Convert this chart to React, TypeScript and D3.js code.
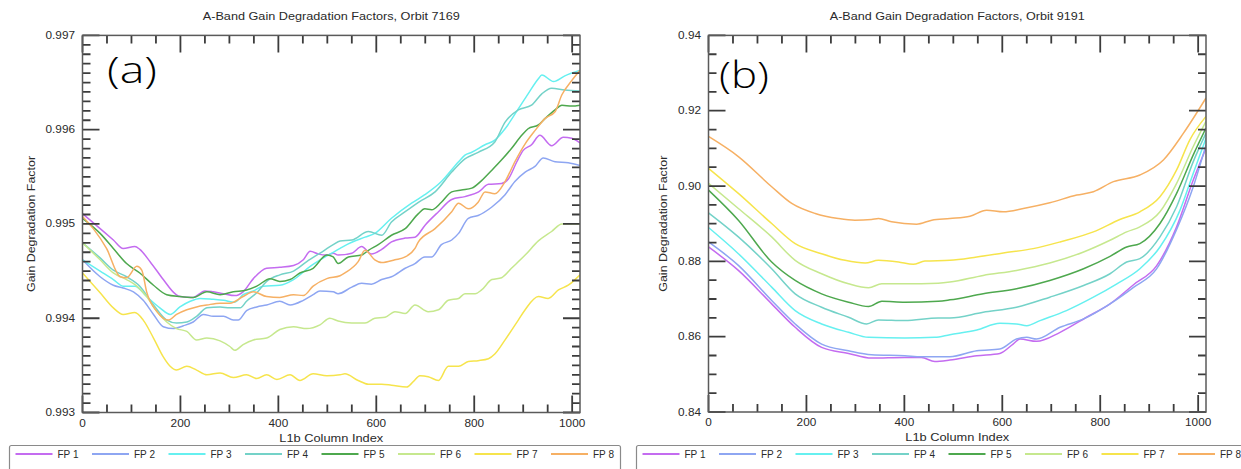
import React from "react";
import * as d3 from "d3";

type Pt = [number, number];

const seriesNames = ["FP 1", "FP 2", "FP 3", "FP 4", "FP 5", "FP 6", "FP 7", "FP 8"];
const seriesColors = ["#c46cf0", "#8ea6f2", "#66f0f0", "#74d2c8", "#4ea84e", "#c6e88e", "#f6e44c", "#f6b064"];

const xTickLabels = [0, 200, 400, 600, 800, 1000];
const yTicksA = [0.993, 0.994, 0.995, 0.996, 0.997];
const yTicksB = [0.84, 0.86, 0.88, 0.9, 0.92, 0.94];

// Orbit 7169 (panel a): [L1b column index, gain degradation factor]
const a_fp1: Pt[] = [[0,0.99511],[36,0.99495],[63,0.99483],[83,0.99474],[107,0.99476],[117,0.99473],[138,0.9946],[165,0.99441],[189,0.99426],[199,0.99423],[226,0.99422],[250,0.99429],[267,0.99428],[288,0.99426],[311,0.99424],[328,0.99428],[349,0.99442],[376,0.99453],[403,0.99454],[431,0.99456],[451,0.99462],[465,0.99471],[482,0.99468],[499,0.99467],[512,0.99469],[522,0.99467],[550,0.99469],[570,0.99476],[590,0.99468],[611,0.99473],[631,0.99481],[659,0.99485],[679,0.99486],[700,0.99499],[727,0.99513],[754,0.99526],[781,0.99529],[809,0.99534],[829,0.99542],[856,0.99543],[870,0.99548],[887,0.99566],[900,0.99578],[917,0.99584],[934,0.99594],[958,0.99583],[982,0.99592],[999,0.99591],[1016,0.99586]];
const a_fp2: Pt[] = [[0,0.99462],[36,0.99444],[63,0.99435],[83,0.99432],[104,0.99428],[124,0.99419],[145,0.99404],[165,0.99391],[186,0.99389],[206,0.99392],[226,0.99396],[247,0.99404],[267,0.99402],[288,0.99402],[308,0.99398],[318,0.99398],[335,0.99408],[356,0.99412],[376,0.99414],[403,0.99418],[424,0.99414],[451,0.99419],[471,0.99425],[485,0.99429],[512,0.99428],[522,0.99426],[550,0.99433],[570,0.99437],[590,0.99436],[611,0.99441],[631,0.99444],[659,0.99453],[679,0.99458],[699,0.99465],[713,0.99465],[733,0.99478],[754,0.99483],[768,0.9949],[788,0.99506],[808,0.99509],[836,0.99518],[863,0.99531],[883,0.99545],[904,0.99555],[924,0.99561],[941,0.9957],[965,0.99566],[992,0.99565],[1016,0.99562]];
const a_fp3: Pt[] = [[0,0.99462],[36,0.9945],[63,0.99441],[83,0.99434],[107,0.99434],[131,0.99423],[158,0.99411],[179,0.99404],[199,0.99412],[220,0.99418],[240,0.99421],[267,0.9942],[288,0.99419],[311,0.99417],[328,0.99425],[349,0.99429],[369,0.99434],[403,0.99435],[431,0.99441],[465,0.99455],[492,0.99464],[526,0.99474],[536,0.99477],[577,0.99486],[597,0.9949],[631,0.99506],[672,0.99522],[699,0.99531],[733,0.99545],[768,0.99566],[781,0.99573],[795,0.99576],[822,0.99584],[842,0.99589],[863,0.99601],[890,0.99622],[910,0.99638],[931,0.99654],[938,0.99658],[962,0.99651],[985,0.99657],[1016,0.99663]];
const a_fp4: Pt[] = [[0,0.9948],[36,0.99464],[63,0.99451],[90,0.99444],[117,0.99434],[145,0.99414],[172,0.99398],[192,0.99395],[213,0.99396],[233,0.99402],[254,0.99411],[281,0.99412],[301,0.99411],[322,0.99411],[335,0.99418],[356,0.99427],[376,0.99439],[403,0.99446],[431,0.9945],[458,0.9946],[485,0.99469],[512,0.99478],[526,0.99482],[550,0.99483],[584,0.99492],[611,0.99488],[631,0.99502],[659,0.99513],[686,0.99523],[720,0.99534],[754,0.99555],[781,0.99569],[808,0.99576],[842,0.99587],[863,0.99608],[890,0.99621],[917,0.99626],[938,0.99638],[958,0.99644],[985,0.99642],[1016,0.99641]];
const a_fp5: Pt[] = [[0,0.99506],[36,0.9949],[63,0.99474],[90,0.99458],[117,0.99448],[145,0.99435],[172,0.99425],[199,0.99423],[226,0.99422],[254,0.99428],[281,0.99425],[308,0.99428],[335,0.9943],[356,0.99434],[383,0.99442],[403,0.99439],[424,0.99441],[444,0.99448],[471,0.99453],[499,0.99467],[512,0.99465],[522,0.99458],[543,0.99465],[570,0.99467],[584,0.99472],[604,0.99478],[631,0.99488],[659,0.99495],[686,0.99511],[699,0.99516],[713,0.99515],[733,0.99523],[754,0.99534],[774,0.99536],[795,0.99538],[815,0.99546],[836,0.99557],[856,0.99568],[876,0.9958],[897,0.99594],[910,0.99601],[931,0.99605],[945,0.99612],[965,0.99621],[979,0.99626],[999,0.99625],[1016,0.99626]];
const a_fp6: Pt[] = [[0,0.9948],[36,0.99462],[63,0.99448],[90,0.99441],[111,0.99434],[131,0.99423],[152,0.99407],[172,0.99396],[192,0.99389],[213,0.99386],[233,0.99377],[254,0.99379],[281,0.99376],[301,0.9937],[311,0.99366],[328,0.99372],[349,0.99377],[376,0.99379],[403,0.99388],[431,0.99391],[458,0.99389],[485,0.99393],[505,0.994],[522,0.99397],[550,0.99395],[577,0.99395],[597,0.994],[618,0.99401],[638,0.99407],[659,0.99405],[679,0.99414],[706,0.99407],[727,0.99409],[747,0.99419],[768,0.99421],[781,0.99426],[802,0.99426],[815,0.9943],[836,0.99441],[856,0.99443],[876,0.99453],[904,0.99467],[931,0.99482],[958,0.99492],[979,0.995],[1016,0.995]];
const a_fp7: Pt[] = [[0,0.99448],[36,0.99427],[63,0.99411],[83,0.99404],[107,0.99406],[124,0.99398],[145,0.99379],[165,0.99359],[179,0.99349],[192,0.99345],[213,0.99349],[233,0.99345],[254,0.9934],[281,0.99342],[308,0.99337],[335,0.9934],[356,0.99336],[376,0.9934],[397,0.99335],[424,0.9934],[444,0.99334],[471,0.99341],[499,0.99339],[526,0.9934],[536,0.99341],[563,0.99334],[584,0.9933],[611,0.9933],[631,0.99329],[662,0.99327],[676,0.99333],[689,0.99339],[706,0.99338],[727,0.99334],[747,0.99349],[768,0.99349],[788,0.99354],[808,0.99355],[829,0.99357],[842,0.99362],[863,0.99377],[890,0.99398],[904,0.99409],[931,0.99423],[951,0.99421],[972,0.9943],[992,0.99435],[1016,0.99446]];
const a_fp8: Pt[] = [[0,0.99508],[22,0.99495],[49,0.99474],[77,0.99444],[90,0.99443],[111,0.99455],[121,0.99451],[131,0.99428],[152,0.99407],[175,0.99398],[192,0.99404],[213,0.99409],[233,0.99412],[254,0.99414],[281,0.99416],[301,0.99416],[328,0.99423],[349,0.99428],[376,0.99423],[403,0.99422],[431,0.99425],[451,0.99424],[471,0.99434],[499,0.99442],[526,0.99445],[536,0.99448],[563,0.9946],[577,0.99472],[597,0.99462],[611,0.99459],[638,0.99462],[659,0.99465],[679,0.99474],[686,0.99481],[720,0.99495],[754,0.99513],[768,0.99522],[788,0.99516],[808,0.99523],[822,0.99534],[842,0.99532],[863,0.99545],[883,0.99566],[904,0.99585],[924,0.99599],[945,0.99612],[965,0.99619],[979,0.99637],[999,0.99652],[1016,0.99663]];

// Orbit 9191 (panel b)
const b_fp1: Pt[] = [[0,0.88382],[61,0.8776],[129,0.86871],[177,0.86249],[231,0.85716],[286,0.85556],[333,0.85431],[401,0.85449],[435,0.85449],[462,0.85342],[493,0.85378],[548,0.85493],[595,0.85556],[622,0.85804],[636,0.85938],[670,0.85876],[718,0.86116],[772,0.86516],[820,0.86871],[868,0.8738],[915,0.8788],[956,0.88916],[990,0.9016],[1016,0.91004]];
const b_fp2: Pt[] = [[0,0.88516],[61,0.87893],[129,0.8696],[177,0.86338],[231,0.85804],[286,0.85627],[333,0.8552],[401,0.85493],[435,0.85467],[469,0.85467],[493,0.85467],[548,0.85627],[595,0.85671],[629,0.85938],[650,0.85982],[670,0.85938],[718,0.86249],[766,0.86471],[820,0.86871],[868,0.8731],[915,0.878],[956,0.8885],[990,0.89982],[1016,0.91093]];
const b_fp3: Pt[] = [[0,0.88898],[61,0.88204],[129,0.87316],[177,0.86693],[231,0.86338],[286,0.86116],[327,0.85982],[401,0.85964],[462,0.85982],[493,0.86053],[548,0.86178],[595,0.86356],[629,0.86338],[650,0.86293],[677,0.86427],[731,0.86693],[786,0.87049],[834,0.87404],[881,0.87804],[922,0.88382],[963,0.8936],[990,0.90338],[1016,0.91271]];
const b_fp4: Pt[] = [[0,0.89289],[61,0.88649],[129,0.87804],[177,0.87138],[231,0.86782],[286,0.86516],[323,0.86338],[347,0.86444],[401,0.86427],[469,0.86498],[493,0.86498],[561,0.86649],[629,0.86782],[697,0.87049],[766,0.8736],[820,0.87671],[854,0.87982],[881,0.88071],[922,0.88649],[956,0.89449],[990,0.90649],[1016,0.91404]];
const b_fp5: Pt[] = [[0,0.89893],[61,0.89093],[129,0.87982],[177,0.87493],[231,0.87138],[286,0.86916],[327,0.868],[354,0.86942],[401,0.86916],[469,0.86942],[493,0.86978],[561,0.87138],[629,0.87271],[697,0.87493],[766,0.87804],[820,0.88133],[854,0.88382],[881,0.88471],[922,0.89004],[956,0.89804],[990,0.90827],[1016,0.91538]];
const b_fp6: Pt[] = [[0,0.90071],[61,0.89404],[129,0.88649],[177,0.88027],[231,0.87671],[286,0.87404],[327,0.87298],[354,0.87404],[401,0.87404],[469,0.87422],[493,0.87449],[561,0.87627],[629,0.8776],[697,0.87956],[766,0.88249],[820,0.8856],[854,0.88782],[881,0.88916],[922,0.89316],[956,0.90071],[990,0.91049],[1016,0.91716]];
const b_fp7: Pt[] = [[0,0.90471],[61,0.89804],[129,0.89004],[177,0.88471],[231,0.88204],[279,0.88027],[320,0.87956],[347,0.88027],[388,0.87982],[418,0.8792],[442,0.88009],[493,0.88027],[548,0.88116],[602,0.88222],[663,0.88338],[718,0.88516],[786,0.88782],[840,0.89111],[881,0.89316],[922,0.89716],[956,0.90427],[983,0.91227],[1016,0.91849]];
const b_fp8: Pt[] = [[0,0.91316],[61,0.90782],[129,0.89982],[170,0.89538],[218,0.89271],[265,0.89138],[299,0.89093],[333,0.89111],[347,0.89138],[374,0.89049],[425,0.88987],[456,0.89093],[493,0.89138],[534,0.892],[568,0.8936],[602,0.89316],[643,0.89404],[697,0.89556],[752,0.8976],[786,0.89849],[827,0.90116],[881,0.90293],[929,0.90693],[970,0.91404],[1016,0.92338]];

const seriesA = [a_fp1, a_fp2, a_fp3, a_fp4, a_fp5, a_fp6, a_fp7, a_fp8];
const seriesB = [b_fp1, b_fp2, b_fp3, b_fp4, b_fp5, b_fp6, b_fp7, b_fp8];

const FONT = "'Liberation Sans', Arial, Helvetica, sans-serif";
const TXT = "#2a2a2a";
const AX = "#3c3c3c";

interface PanelProps {
  id: string;
  l: number; r: number; t: number; b: number;
  yDomain: [number, number];
  yTicks: number[];
  yMinorStep: number;
  yFmt: (v: number) => string;
  title: string;
  titleLen: number;
  tag: string;
  tagX: number;
  tagY: number;
  ylabX: number;
  series: Pt[][];
}

function Panel(p: PanelProps) {
  const x = d3.scaleLinear().domain([0, 1016]).range([p.l, p.r]);
  const y = d3.scaleLinear().domain(p.yDomain).range([p.b, p.t]);
  const line = d3.line<Pt>().x(d => x(d[0])).y(d => y(d[1])).curve(d3.curveMonotoneX);
  const xMinor = d3.range(0, 1016, 50);
  const nMinor = Math.round((p.yDomain[1] - p.yDomain[0]) / p.yMinorStep);
  const perMajor = Math.round((p.yTicks[1] - p.yTicks[0]) / p.yMinorStep);
  const yMinor = d3.range(0, nMinor + 1).map(i => ({ v: p.yDomain[0] + i * p.yMinorStep, major: i % perMajor === 0 }));
  const MAJ = 17, MIN = 8;
  const cx = (p.l + p.r) / 2;
  const cy = (p.t + p.b) / 2;
  const tickPaths: string[] = [];
  xMinor.forEach(v => {
    const len = v % 200 === 0 ? MAJ : MIN;
    const px = x(v);
    tickPaths.push(`M${px},${p.b}V${p.b - len}`);
    tickPaths.push(`M${px},${p.t}V${p.t + len}`);
  });
  yMinor.forEach(d => {
    const len = d.major ? MAJ : MIN;
    const py = y(d.v);
    tickPaths.push(`M${p.l},${py}H${p.l + len}`);
    tickPaths.push(`M${p.r},${py}H${p.r - len}`);
  });
  return (
    <g>
      <defs>
        <clipPath id={`clip-${p.id}`}>
          <rect x={p.l} y={p.t} width={p.r - p.l} height={p.b - p.t} />
        </clipPath>
      </defs>
      <g clipPath={`url(#clip-${p.id})`}>
        {p.series.map((s, i) => (
          <path key={i} d={line(s) || ""} fill="none" stroke={seriesColors[i]} strokeWidth={1.5} strokeLinejoin="round" />
        ))}
      </g>
      <path d={tickPaths.join("")} fill="none" stroke={AX} strokeWidth={1.8} />
      <rect x={p.l} y={p.t} width={p.r - p.l} height={p.b - p.t} fill="none" stroke="#5a5a5a" strokeWidth={1.5} />
      {xTickLabels.map(v => (
        <text key={`xl${v}`} transform={`translate(${x(v)},${p.b + 14}) scale(1.18,1)`} textAnchor="middle" fontSize={10} fontFamily={FONT} fill={TXT}>{v}</text>
      ))}
      {p.yTicks.map(v => (
        <text key={`yl${v}`} transform={`translate(${p.l - 7.5},${y(v) + 3.5}) scale(1.18,1)`} textAnchor="end" fontSize={10} fontFamily={FONT} fill={TXT}>{p.yFmt(v)}</text>
      ))}
      <text x={cx} y={19.5} textAnchor="middle" fontSize={10.5} fontFamily={FONT} fill={TXT} textLength={p.titleLen} lengthAdjust="spacingAndGlyphs">{p.title}</text>
      <text x={cx} y={p.b + 29} textAnchor="middle" fontSize={10.5} fontFamily={FONT} fill={TXT} textLength={104} lengthAdjust="spacingAndGlyphs">L1b Column Index</text>
      <text transform={`translate(${p.ylabX},${cy}) rotate(-90)`} textAnchor="middle" fontSize={11} fontFamily={FONT} fill={TXT} textLength={136} lengthAdjust="spacingAndGlyphs">Gain Degradation Factor</text>
      <text x={p.tagX} y={p.tagY} fontSize={36} fontWeight={300} fontFamily="'Open Sans', 'Noto Sans', sans-serif" fill="#000" textLength={50} lengthAdjust="spacingAndGlyphs">{p.tag}</text>
    </g>
  );
}

function Legend({ x0, width }: { x0: number; width: number }) {
  const step = 76.5;
  return (
    <g>
      <rect x={x0} y={445.5} width={width} height={40} rx={2} fill="#fff" stroke="#8a8a8a" strokeWidth={1.2} />
      {seriesNames.map((n, i) => {
        const sx = x0 + 6 + i * step;
        return (
          <g key={n}>
            <line x1={sx} x2={sx + 37} y1={454} y2={454} stroke={seriesColors[i]} strokeWidth={2} />
            <text x={sx + 42} y={458} fontSize={10} fontFamily={FONT} fill={TXT}>{n}</text>
          </g>
        );
      })}
    </g>
  );
}

export default function App() {
  return (
    <div style={{ position: "absolute", left: 0, top: 0 }}>
      <svg width={1241} height={469} style={{ display: "block", background: "#fff" }}>
        <rect x={0} y={0} width={1241} height={469} fill="#fff" />
        <Panel id="a" l={82.5} r={580} t={35.4} b={412.5} yDomain={[0.993, 0.997]} yTicks={yTicksA} yMinorStep={0.0001}
          yFmt={d3.format(".3f")} title="A-Band Gain Degradation Factors, Orbit 7169" titleLen={257}
          tag="(a)" tagX={107} tagY={83} ylabX={35} series={seriesA} />
        <Panel id="b" l={708.5} r={1206} t={35.4} b={412} yDomain={[0.84, 0.94]} yTicks={yTicksB} yMinorStep={0.005}
          yFmt={d3.format(".2f")} title="A-Band Gain Degradation Factors, Orbit 9191" titleLen={255}
          tag="(b)" tagX={719} tagY={88} ylabX={667} series={seriesB} />
        <Legend x0={9.5} width={611} />
        <Legend x0={636.5} width={620} />
      </svg>
    </div>
  );
}
